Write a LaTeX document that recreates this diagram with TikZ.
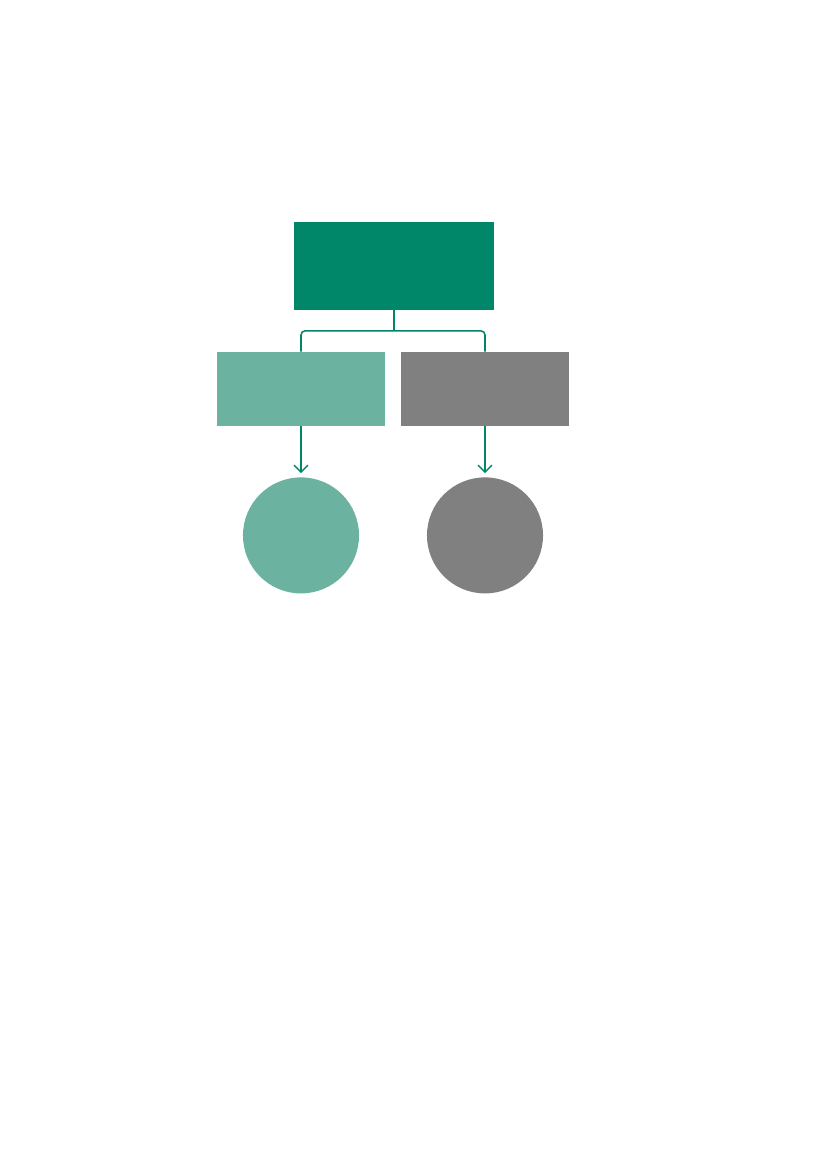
\documentclass[tikz,border=0pt]{standalone}
\usetikzlibrary{arrows.meta}
\definecolor{dgreen}{RGB}{0,134,104}
\definecolor{lgreen}{RGB}{108,178,160}
\definecolor{mgrey}{RGB}{128,128,128}
\tikzset{
  box/.style={rectangle, inner sep=0pt, draw=none},
  topbox/.style={box, fill=dgreen, minimum width=143.9pt, minimum height=63.3pt},
  subbox/.style={box, minimum width=120.2pt, minimum height=53.2pt},
  disc/.style={circle, inner sep=0pt, draw=none, minimum size=83.5pt},
  conn/.style={draw=dgreen, line width=1.1pt},
  arr/.style={conn, -{Straight Barb[length=5pt,width=10pt,line width=1.1pt]}, shorten >=2.8pt}
}
\begin{document}
\begin{tikzpicture}[x=0.7195pt,y=-0.7195pt]
\useasboundingbox (0,0) rectangle (827,1169);
\node[topbox] (top) at (394,266) {};
\node[subbox, fill=lgreen] (left) at (301,388.8) {};
\node[subbox, fill=mgrey] (right) at (485,388.8) {};
\node[disc, fill=lgreen] (lc) at (301,535.4) {};
\node[disc, fill=mgrey] (rc) at (485,535.4) {};
\coordinate (j) at (394,330.8);
\draw[conn] (top.south) -- (j);
\draw[conn, rounded corners=3pt] (left.north) |- (j) -| (right.north);
\draw[arr] (left.south) -- (lc.north);
\draw[arr] (right.south) -- (rc.north);
\end{tikzpicture}
\end{document}
